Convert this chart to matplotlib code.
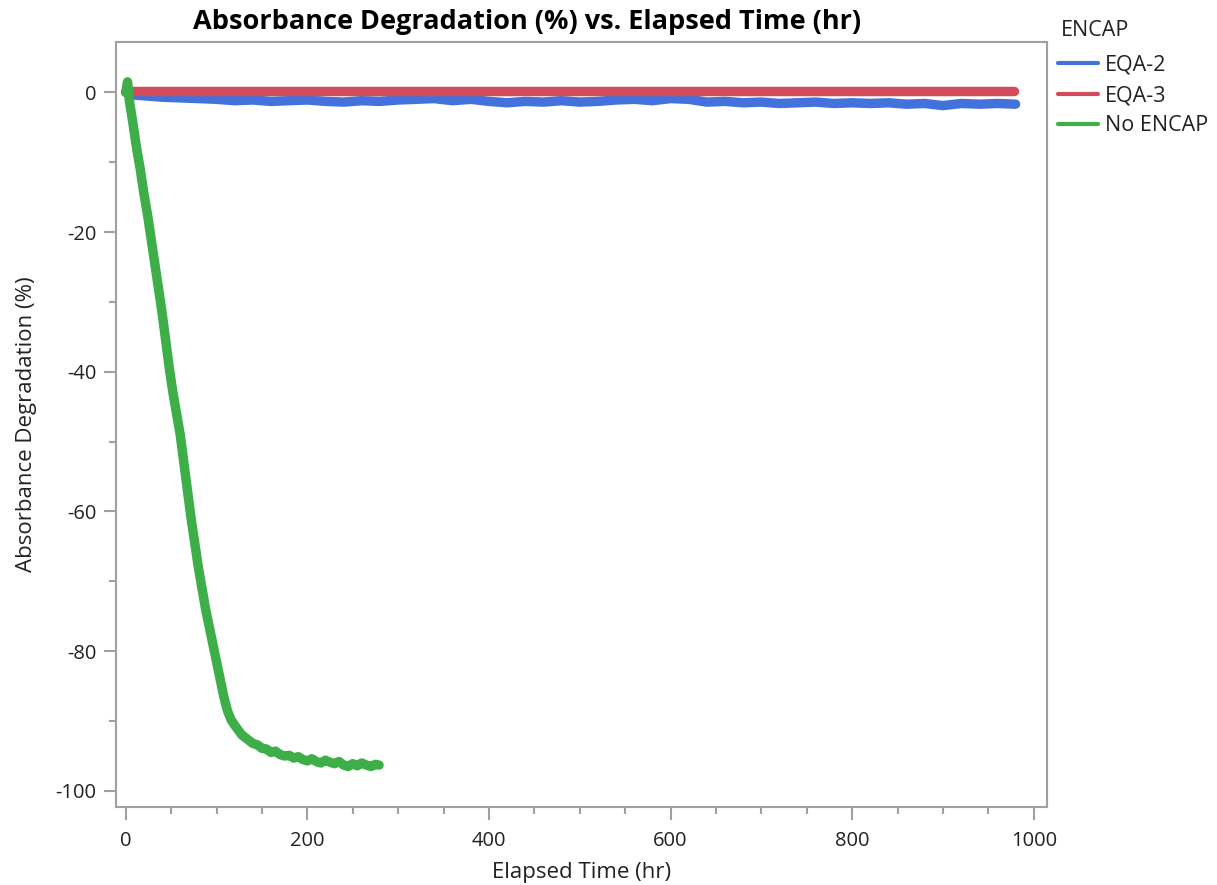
import matplotlib
matplotlib.use("Agg")
import matplotlib.pyplot as plt
from matplotlib.ticker import MultipleLocator

plt.rcParams['font.family'] = ['Open Sans', 'DejaVu Sans']
plt.rcParams['axes.unicode_minus'] = False

# ---- data ----
series_names = ["EQA-2", "EQA-3", "No ENCAP"]
legend_title = "ENCAP"

eqa2_t = [0, 5, 10, 20, 40, 60, 80, 100, 120, 140, 160, 180, 200, 220, 240, 260, 280,
          300, 320, 340, 360, 380, 400, 420, 440, 460, 480, 500, 520, 540, 560, 580,
          600, 620, 640, 660, 680, 700, 720, 740, 760, 780, 800, 820, 840, 860, 880,
          900, 920, 940, 960, 980]
eqa2_v = [0, -0.3, -0.4, -0.5, -0.7, -0.8, -0.9, -1.0, -1.2, -1.1, -1.3, -1.2, -1.1,
          -1.3, -1.4, -1.2, -1.3, -1.1, -1.0, -0.9, -1.2, -1.0, -1.3, -1.5, -1.3, -1.4,
          -1.2, -1.4, -1.3, -1.1, -1.0, -1.2, -0.9, -1.0, -1.4, -1.3, -1.5, -1.4, -1.6,
          -1.5, -1.4, -1.6, -1.5, -1.6, -1.5, -1.7, -1.6, -1.9, -1.6, -1.7, -1.6, -1.7]

eqa3_t = [0, 250, 500, 750, 978]
eqa3_v = [0.15, 0.15, 0.15, 0.15, 0.15]

noencap_t = [0, 2, 4, 8, 12, 16, 20, 24, 28, 32, 36, 40, 44, 48, 52, 56, 60, 64, 68,
             72, 76, 80, 84, 88, 92, 96, 100, 104, 108, 112, 116, 120, 124, 128, 132,
             136, 140, 145, 150, 155, 160, 165, 170, 175, 180, 185, 190, 195, 200, 205,
             210, 215, 220, 225, 230, 235, 240, 245, 250, 255, 260, 265, 270, 275, 279]
noencap_v = [0, 1.5, -1.2, -4.5, -8, -11, -14.5, -17.5, -21, -24.5, -28, -31.5, -35.5,
             -39.5, -43, -46, -49, -53, -57, -61, -64.5, -68, -71, -74, -76.5, -79,
             -81.5, -84, -86.5, -88.5, -89.8, -90.6, -91.3, -92, -92.4, -92.8, -93.2,
             -93.4, -93.9, -94.0, -94.5, -94.3, -94.8, -95.0, -94.9, -95.3, -95.1, -95.5,
             -95.7, -95.4, -95.8, -96.0, -95.6, -95.9, -96.1, -95.8, -96.3, -96.5, -96.1,
             -96.4, -96.0, -96.3, -96.5, -96.2, -96.3]

colors = ["#4372DC", "#D24B5A", "#3DAE48"]

# ---- figure ----
W, H = 1217, 885
fig = plt.figure(figsize=(W / 100, H / 100), dpi=100)
ax = fig.add_axes([116 / W, 1 - 807 / H, (1047 - 116) / W, (807 - 42) / H])

kw = dict(linewidth=6.8, solid_capstyle='round', solid_joinstyle='round')
l1, = ax.plot(eqa2_t, eqa2_v, color=colors[0], **kw)
l2, = ax.plot(eqa3_t, eqa3_v, color=colors[1], **kw)
l3, = ax.plot(noencap_t, noencap_v, color=colors[2], **kw)

ax.set_xlim(-10.7, 1014.6)
ax.set_ylim(-102.3, 7.2)
ax.xaxis.set_major_locator(MultipleLocator(200))
ax.xaxis.set_minor_locator(MultipleLocator(50))
ax.yaxis.set_major_locator(MultipleLocator(20))
ax.yaxis.set_minor_locator(MultipleLocator(10))

spine_c = "#A0A0A0"
for s in ax.spines.values():
    s.set_color(spine_c)
    s.set_linewidth(1.5)
ax.tick_params(which='major', length=9, width=1.5, color=spine_c, labelsize=14.5,
               labelcolor='#222222', pad=5)
ax.tick_params(axis='x', which='major', pad=8)
ax.tick_params(which='minor', length=5, width=1.5, color=spine_c)

ax.set_xlabel("Elapsed Time (hr)", fontsize=16, color='#222222', labelpad=8)
ax.set_ylabel("Absorbance Degradation (%)", fontsize=16, color='#222222', labelpad=13)

fig.text(527 / W, 1 - 22 / H, "Absorbance Degradation (%) vs. Elapsed Time (hr)",
         ha='center', va='center', fontsize=19.5, fontweight='bold', color='black')

fig.text(1061 / W, 1 - 30 / H, legend_title, ha='left', va='center',
         fontsize=15.5, color='#222222')
leg = fig.legend([l1, l2, l3], series_names,
                 loc='upper left', bbox_to_anchor=(1058 / W, 1 - 55 / H),
                 frameon=False, fontsize=15.5,
                 handlelength=1.85, handletextpad=0.35, labelspacing=0.42,
                 borderpad=0, borderaxespad=0)
for h in leg.legend_handles:
    h.set_linewidth(3)
for t in leg.get_texts():
    t.set_color('#222222')

fig.savefig("out.png", dpi=100)
